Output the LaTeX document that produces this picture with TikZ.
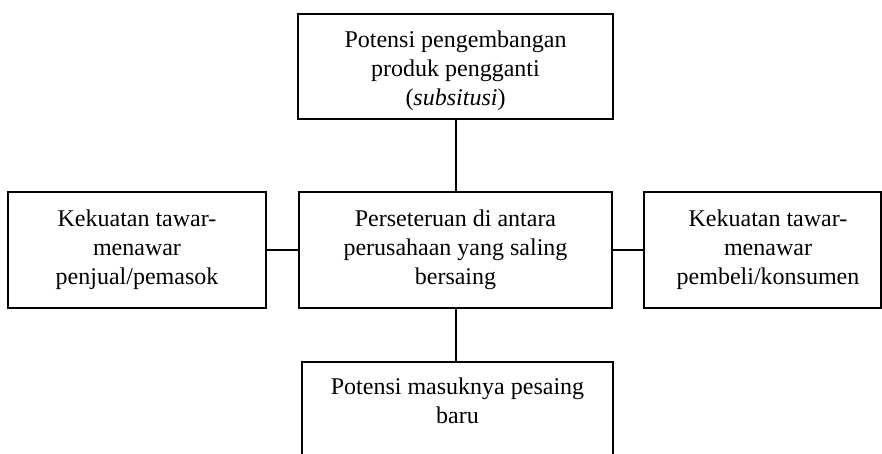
\documentclass[tikz,border=0pt]{standalone}
\usepackage{fontspec}
\setmainfont{Liberation Serif}
\begin{document}
\begin{tikzpicture}[x=1pt,y=1pt,
  box/.style={draw, line width=2pt, rectangle, inner sep=0pt, align=center,
              font=\fontsize{24}{29}\selectfont},
  txt/.style={inner sep=0pt, align=center, font=\fontsize{24}{29}\selectfont},
  link/.style={line width=2pt}]
\useasboundingbox (0,0) rectangle (882,453);
\clip (0,0) rectangle (882,453);
\node[box, minimum width=315, minimum height=105] (top) at (455.5,386.5) {};
\node[txt] (toptext) at ([yshift=-4pt]top.center)
  {Potensi pengembangan\\produk pengganti\\(\textit{subsitusi})};
\node[box, minimum width=258, minimum height=116] (left) at (137,203)
  {Kekuatan tawar-\\menawar\\penjual/pemasok};
\node[box, minimum width=313, minimum height=116] (mid) at (455.5,203)
  {Perseteruan di antara\\perusahaan yang saling\\bersaing};
\node[box, minimum width=237, minimum height=116] (right) at (762.5,203) {};
\node[txt] (righttext) at ([xshift=5.5pt]right.center)
  {Kekuatan tawar-\\menawar\\pembeli/konsumen};
\node[box, minimum width=311, minimum height=120, anchor=north] (bot) at (457.5,92) {};
\node[txt, anchor=north] (bottext) at ([yshift=-17pt]bot.north)
  {Potensi masuknya pesaing\\baru};
\draw[link] (top.south) -- (mid.north);
\draw[link] (left.east) -- (mid.west);
\draw[link] (mid.east) -- (right.west);
\draw[link] (mid.south) -- (bot.north -| mid.south);
\end{tikzpicture}
\end{document}
